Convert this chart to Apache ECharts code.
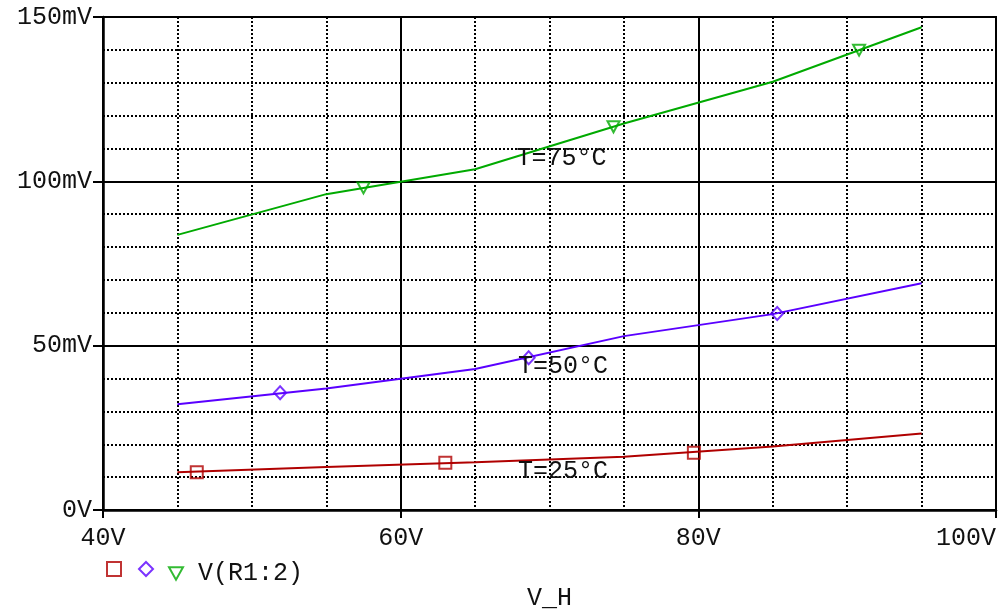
<!DOCTYPE html>
<html>
<head>
<meta charset="utf-8">
<title>V(R1:2) vs V_H</title>
<script src="https://cdn.jsdelivr.net/npm/echarts@6/dist/echarts.min.js"></script>
<style>
  html, body { margin: 0; padding: 0; background: #fff; }
  #chart { width: 1007px; height: 610px; }
</style>
</head>
<body>
<div id="chart"></div>
<script>
// sweep points of V_H (V)
var vh = [45, 55, 65, 75, 85, 95];
// V(R1:2) in mV for each temperature
var t25 = [11.5, 13.1, 14.5, 16.2, 19.3, 23.3];
var t50 = [32.2, 37.0, 42.9, 52.9, 59.6, 69.0];
var t75 = [83.7, 96.1, 103.7, 117.6, 130.3, 146.9];
// marker positions [V, mV]
var mk25 = [[46.3, 11.5], [63.0, 14.4], [79.7, 17.4]];
var mk50 = [[51.9, 35.7], [68.6, 46.3], [85.3, 59.8]];
var mk75 = [[57.5, 98.0], [74.3, 116.6], [90.8, 139.9]];
// curve labels [V, mV, text]
var curveLabels = [[70.8, 107.1, "T=75°C"], [70.9, 43.8, "T=50°C"], [70.9, 11.6, "T=25°C"]];
var xTicks = [40, 60, 80, 100];
var yTicks = [0, 50, 100, 150];

var colors = { t25: "#b00000", t50: "#5a00ff", t75: "#00aa00" };
var fontFamily = "'Liberation Mono', 'DejaVu Sans Mono', monospace";
var triPath = "path://M0,0L10,0L5,9Z";

function pairs(xs, ys) {
  var out = [];
  for (var i = 0; i < xs.length; i++) out.push([xs[i], ys[i]]);
  return out;
}

function lineSeries(name, data, color) {
  return {
    name: name,
    type: "line",
    data: pairs(vh, data),
    showSymbol: false,
    symbol: "none",
    silent: true,
    lineStyle: { color: color, width: 2 },
    itemStyle: { color: color },
    z: 3,
  };
}

function markerSeries(name, data, color, symbol, size) {
  return {
    name: name,
    type: "scatter",
    data: data,
    symbol: symbol,
    symbolSize: size,
    itemStyle: { color: "rgba(255,255,255,0)", borderColor: color, borderWidth: 2 },
    z: 4,
  };
}

function legendItem(name, left, text) {
  return {
    data: [name],
    left: left,
    top: 556,
    itemWidth: 14,
    itemHeight: 14,
    selectedMode: false,
    formatter: function () { return text; },
    textStyle: { fontFamily: fontFamily, fontSize: 25, color: "#111", padding: [0, 0, 0, 10] },
  };
}

var myChart = echarts.init(document.getElementById("chart"), null, { renderer: "canvas" });

var minorDots = { color: "#000", width: 2, type: [2, 2] };

var option = {
  animation: false,
  backgroundColor: "#fff",
  grid: {
    left: 103,
    right: 11,
    top: 17,
    bottom: 100,
    outerBoundsMode: "none",
    containLabel: false,
    show: true,
    borderColor: "#000",
    borderWidth: 2,
  },
  legend: [
    legendItem("m25", 101, ""),
    legendItem("m50", 133, ""),
    legendItem("m75", 163, "V(R1:2)"),
  ],
  xAxis: {
    type: "value",
    min: xTicks[0],
    max: xTicks[xTicks.length - 1],
    interval: 20,
    name: "V_H",
    nameLocation: "middle",
    nameGap: 76,
    nameTextStyle: { fontFamily: fontFamily, fontSize: 25, color: "#111" },
    axisLine: { show: true, lineStyle: { color: "#000", width: 2.5 } },
    axisTick: { show: true, length: 8, lineStyle: { color: "#000", width: 2 } },
    axisLabel: {
      fontFamily: fontFamily,
      fontSize: 25,
      color: "#111",
      margin: 16,
      alignMaxLabel: "right",
      formatter: function (v) { return v + "V"; },
    },
    splitLine: { show: true, lineStyle: { color: "#000", width: 2 } },
    minorTick: { show: false, splitNumber: 4 },
    minorSplitLine: { show: true, lineStyle: minorDots },
  },
  yAxis: {
    type: "value",
    min: yTicks[0],
    max: yTicks[yTicks.length - 1],
    interval: 50,
    axisLine: { show: true, lineStyle: { color: "#000", width: 2.5 } },
    axisTick: { show: true, length: 10, lineStyle: { color: "#000", width: 2 } },
    axisLabel: {
      fontFamily: fontFamily,
      fontSize: 25,
      color: "#111",
      margin: 11,
      formatter: function (v) { return v === 0 ? "0V" : v + "mV"; },
    },
    splitLine: { show: true, lineStyle: { color: "#000", width: 2 } },
    minorTick: { show: false, splitNumber: 5 },
    minorSplitLine: { show: true, lineStyle: minorDots },
  },
  series: [
    lineSeries("T=25°C", t25, colors.t25),
    lineSeries("T=50°C", t50, colors.t50),
    lineSeries("T=75°C", t75, colors.t75),
    markerSeries("m25", mk25, colors.t25, "rect", 12),
    markerSeries("m50", mk50, colors.t50, "diamond", [12, 13]),
    markerSeries("m75", mk75, colors.t75, triPath, [12, 11]),
    {
      // text labels next to each curve
      type: "scatter",
      data: curveLabels.map(function (c) { return { value: [c[0], c[1]], name: c[2] }; }),
      symbol: "circle",
      symbolSize: 2,
      itemStyle: { color: "rgba(0,0,0,0)" },
      silent: true,
      label: {
        show: true,
        position: "inside",
        formatter: function (p) { return p.name; },
        fontFamily: fontFamily,
        fontSize: 25,
        color: "#111",
        opacity: 1,
        textBorderWidth: 0,
      },
      labelLayout: { hideOverlap: false },
      z: 5,
    },
  ],
};

myChart.setOption(option);
window.addEventListener("resize", function () {
  myChart.resize();
});
</script>
</body>
</html>
